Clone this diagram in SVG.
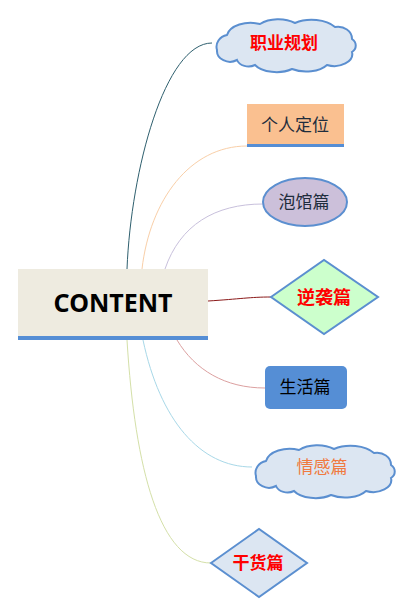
<svg xmlns="http://www.w3.org/2000/svg" width="411" height="613" viewBox="0 0 411 613">
<defs>
<style>
.c{fill:none;stroke-width:1}
.t{font-family:"Noto Sans CJK SC","Noto Sans",sans-serif;font-size:17px;text-anchor:middle}
.b{font-weight:bold;fill:#ff0000}
.sh{stroke:#5b8fd0;stroke-width:2}
</style>
<path id="cloud" d="M5,34 A13,12 0 0 1 15,19 A24,15 0 0 1 48,8 A26,16 0 0 1 83,7 A28,16 0 0 1 123,11 A14,12 0 0 1 140,23 A9,8 0 0 1 140,36 A18,12 0 0 1 115,49 A24,13 0 0 1 80,53 A24,13 0 0 1 43,49 A12,9 0 0 1 25,44 A13,11 0 0 1 5,34 Z"/>
</defs>
<rect width="411" height="613" fill="#ffffff"/>
<g id="connectors">
<path class="c" stroke="#2e5f6e" d="M127,269 C131,170 165,43 212,43"/>
<path class="c" stroke="#f9cfa8" d="M142,269 C150,200 190,146 247,146"/>
<path class="c" stroke="#c8c0dc" d="M165,269 C180,225 215,204 263,204"/>
<path class="c" stroke="#8b1a1a" d="M208,301 C240,299 250,297 271,297"/>
<path class="c" stroke="#dca0a0" d="M177,340 C195,370 225,388 265,388"/>
<path class="c" stroke="#a8d8e8" d="M143,340 C160,420 200,467 252,467"/>
<path class="c" stroke="#d4e0a8" d="M127,340 C135,470 160,563 211,563"/>
</g>
<g id="center">
<rect x="18" y="269" width="190" height="68" fill="#eeebe0"/>
<rect x="18" y="336" width="190" height="4" fill="#558ed5"/>
<text x="113" y="312" font-family="'Noto Sans','Open Sans',sans-serif" font-size="25" font-weight="bold" text-anchor="middle" fill="#000">CONTENT</text>
</g>
<g id="n1">
<use href="#cloud" transform="translate(212,16)" fill="#dce6f2" class="sh"/>
<text class="t b" x="284" y="49">职业规划</text>
</g>
<g id="n2">
<rect x="247" y="104" width="97" height="41" fill="#fac090"/>
<rect x="247" y="144" width="97" height="3" fill="#558ed5"/>
<text class="t" x="295" y="131" fill="#1f2d3d">个人定位</text>
</g>
<g id="n3">
<ellipse cx="305" cy="202" rx="42" ry="24" fill="#ccc0da" class="sh"/>
<text class="t" x="304" y="208" fill="#1f2d3d">泡馆篇</text>
</g>
<g id="n4">
<polygon points="271,297 324,260 378,297 324,334" fill="#ccffcc" class="sh"/>
<text class="t b" x="324" y="304" style="font-size:18px">逆袭篇</text>
</g>
<g id="n5">
<rect x="265" y="366" width="82" height="43" rx="5" fill="#558ed5"/>
<text class="t" x="305" y="393" fill="#000">生活篇</text>
</g>
<g id="n6">
<use href="#cloud" transform="translate(251,442)" fill="#dce6f2" class="sh"/>
<text class="t" x="322" y="473" fill="#f07a40">情感篇</text>
</g>
<g id="n7">
<polygon points="211,563 259,529 307,563 259,597" fill="#dce6f2" class="sh"/>
<text class="t b" x="258" y="569">干货篇</text>
</g>
</svg>
